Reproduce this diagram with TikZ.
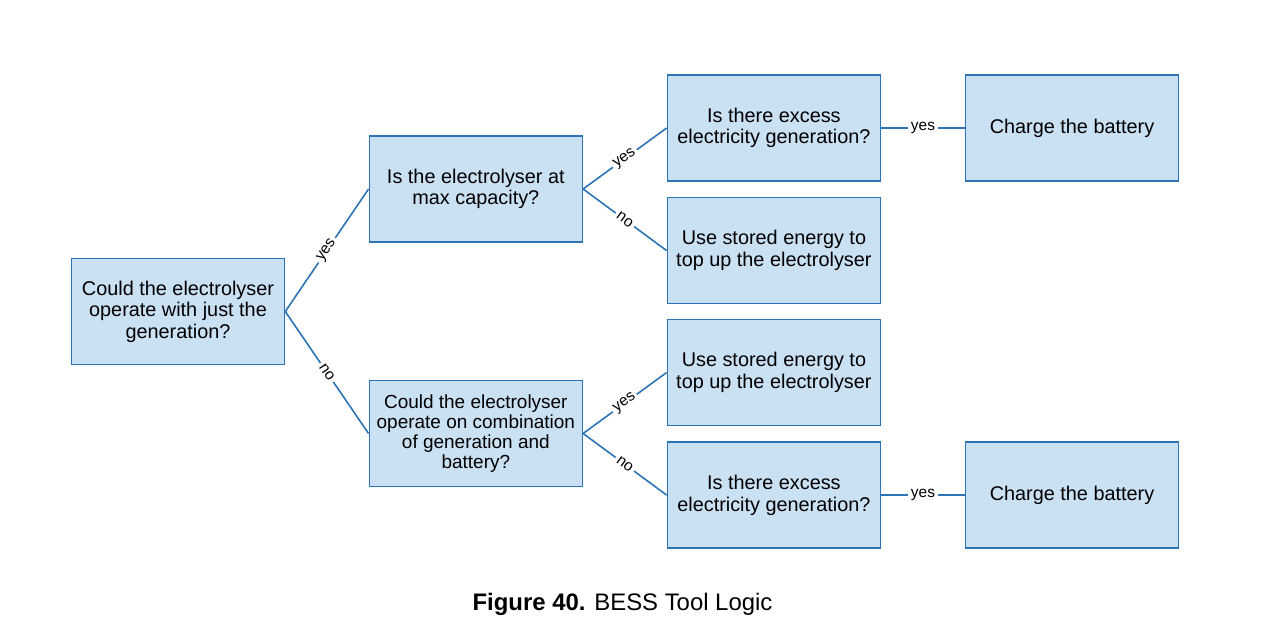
\documentclass[tikz,border=0pt]{standalone}
\usepackage{fontspec}
\setmainfont{Liberation Sans}
\usepackage{tikz}
\usetikzlibrary{positioning}
\definecolor{boxfill}{RGB}{202,225,243}
\definecolor{boxline}{RGB}{43,115,180}
\tikzset{
  qbox/.style={
    draw=boxline, fill=boxfill, line width=0.9pt,
    minimum width=4.26cm, minimum height=2.12cm,
    align=center, inner sep=2pt,
    font=\fontsize{11.3}{12.3}\selectfont
  },
  link/.style={draw=boxline, line width=0.9pt},
  lbl/.style={
    sloped, fill=white, inner sep=1.5pt,
    font=\fontsize{8.8}{10}\selectfont
  },
}

\begin{document}
\begin{tikzpicture}
  \useasboundingbox (0,0) rectangle (25.4,-12.52);

  \node[qbox] (A) at (3.56,-6.23) {Could the electrolyser\\operate with just the\\generation?};

  \node[qbox, right=1.665cm of A, yshift=2.45cm] (B) {Is the electrolyser at\\max capacity?};
  \node[qbox, right=1.665cm of A, yshift=-2.44cm,
        font=\fontsize{10.8}{11.4}\selectfont] (C) {Could the electrolyser\\operate on combination\\of generation and\\battery?};

  \node[qbox, right=1.67cm of B, yshift=1.22cm] (D) {Is there excess\\electricity generation?};
  \node[qbox, below=0.3cm of D] (E) {Use stored energy to\\top up the electrolyser};
  \node[qbox, right=1.67cm of C, yshift=1.22cm] (F) {Use stored energy to\\top up the electrolyser};
  \node[qbox, below=0.3cm of F] (G) {Is there excess\\electricity generation?};

  \node[qbox, right=1.67cm of D] (H) {Charge the battery};
  \node[qbox, right=1.67cm of G] (I) {Charge the battery};

  \draw[link] (A.east) -- node[lbl] {yes} (B.west);
  \draw[link] (A.east) -- node[lbl] {no} (C.west);
  \draw[link] (B.east) -- node[lbl] {yes} (D.west);
  \draw[link] (B.east) -- node[lbl] {no} (E.west);
  \draw[link] (C.east) -- node[lbl] {yes} (F.west);
  \draw[link] (C.east) -- node[lbl] {no} (G.west);
  \draw[link] (D) -- node[lbl] {yes} (H);
  \draw[link] (G) -- node[lbl] {yes} (I);

  % caption
  \node[font=\fontsize{13.6}{15}\selectfont] (cap) at (12.45,-12.08) {\textbf{Figure 40.} BESS Tool Logic};
\end{tikzpicture}
\end{document}
